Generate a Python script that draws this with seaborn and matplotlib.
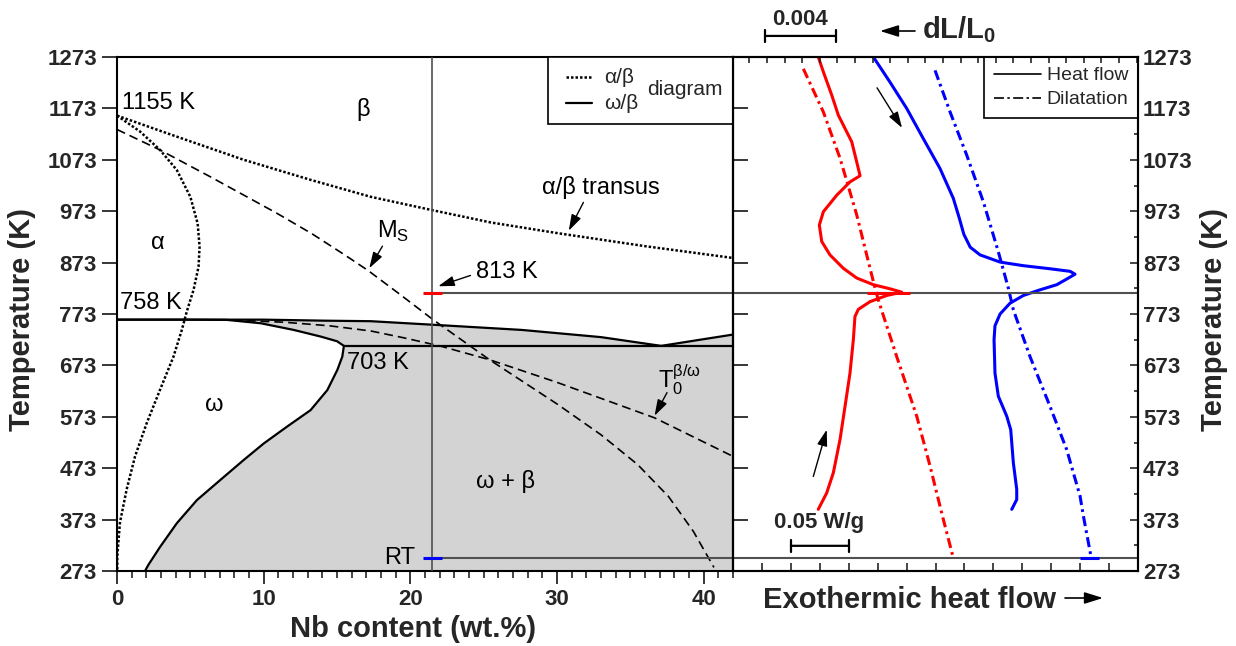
import numpy as np
import matplotlib
matplotlib.use('Agg')
import matplotlib.pyplot as plt
from matplotlib.patches import Rectangle, FancyArrowPatch
from matplotlib.lines import Line2D
import seaborn as sns

# ---- phase diagram, Nb content (wt.%) vs temperature (K) ----
transus_nb = [0, 4.08, 8.64, 13.2, 17.3, 21.5, 25.5, 30.1, 36, 42]
transus_t = [1159, 1118, 1073, 1034, 1001, 975, 951, 930, 905, 882]

alpha_nb = [0, 1.57, 2.94, 4.08, 5.0, 5.5, 5.63, 5.56, 5.22, 4.76, 4.42, 3.85, 2.94, 2.03,
            1.23, 0.66, 0.2, 0.02, 0.02]
alpha_t = [1159, 1128, 1092, 1053, 1001, 949, 904, 865, 820, 778, 742, 690, 626, 561,
           496, 432, 367, 302, 273]

ms_nb = [0, 2.94, 6.36, 10.9, 13.3, 15.47, 17.1, 19.3, 21.5, 25.4, 30, 33, 35.5, 37.6,
         39.3, 40.7]
ms_t = [1132, 1092, 1040, 969, 929, 889, 858, 811, 763, 684, 598, 538, 480, 418,
        350, 280]

t0_nb = [7.9, 11.4, 14.5, 17.3, 19.5, 22, 25.4, 30, 36.65, 42]
t0_t = [761, 757, 750, 740, 727, 711, 684, 640, 571, 496]

upper_nb = [0, 7.5, 10, 14.2, 17.3, 21.6, 27.6, 33, 37.1, 42]
upper_t = [762, 762, 762, 760, 759, 752, 742, 728, 711, 733]

omega_nb = [0, 5, 7.5, 9.8, 12.05, 13.9, 15.0, 15.47, 15.36, 15.02, 14.34, 13.2, 11.6, 10.0,
            8.64, 7.04, 5.45, 4.08, 2.94, 2.14, 1.91]
omega_t = [762, 762, 761.5, 755, 742, 729, 720, 711, 690, 664, 625, 586, 554, 521,
           489, 450, 411, 366, 320, 285, 273]

eutectoid_nb = [15.47, 42]
eutectoid_t = [711, 711]

alloy_nb = 21.5
t_quench = 814
t_room = 299

# ---- DSC / dilatometry, heat flow (W/g, offset) vs temperature (K) ----
heat_red_x = [0.0737, 0.0781, 0.0853, 0.0910, 0.0968, 0.1026, 0.1069, 0.1098, 0.1011, 0.0896,
              0.0781, 0.0746, 0.0767, 0.0838, 0.0953, 0.1069, 0.1213, 0.1357, 0.1458, 0.1328,
              0.1184, 0.1083, 0.1054, 0.1040, 0.1011, 0.0968, 0.0925, 0.0867, 0.0810, 0.0737]
heat_red_t = [1273, 1244, 1199, 1160, 1134, 1108, 1069, 1042, 1030, 1004,
              972, 946, 914, 888, 862, 843, 830, 822, 815.5, 809,
              797, 782, 768, 723, 658, 593, 529, 464, 425, 393]

heat_blue_x = [0.1213, 0.1357, 0.1501, 0.1645, 0.1789, 0.1904, 0.1955, 0.1995, 0.2050, 0.2135,
               0.2308, 0.2509, 0.2740, 0.2913, 0.2956, 0.2884, 0.2798, 0.2653, 0.2509, 0.2394,
               0.2308, 0.2264, 0.2256, 0.2264, 0.2293, 0.2366, 0.2400, 0.2423, 0.2452, 0.2452,
               0.2409]
heat_blue_t = [1273, 1224, 1173, 1114, 1056, 998, 960, 928, 903, 888,
               874, 867, 861, 856, 850.5, 841, 830, 820, 809, 794,
               773, 750, 723, 658, 613, 574, 548, 483, 432, 412,
               393]

dil_red_x = [0.0608, 0.0781, 0.0925, 0.1069, 0.1213, 0.1256, 0.1415, 0.1588, 0.1703, 0.1818,
             0.1902]
dil_red_t = [1250, 1166, 1076, 966, 836, 800, 690, 574, 477, 373, 300]

dil_blue_x = [0.1746, 0.1876, 0.2020, 0.2164, 0.2293, 0.2380, 0.2423, 0.2567, 0.2740, 0.2884,
              0.2999, 0.3028, 0.3094]
dil_blue_t = [1247, 1166, 1082, 991, 894, 823, 781, 690, 593, 509, 419, 380, 301]

temp_ticks = list(range(273, 1274, 100))
nb_ticks = [0, 10, 20, 30, 40]

sns.set_theme(style='ticks')
plt.rcParams['font.family'] = ['Liberation Sans', 'DejaVu Sans']
plt.rcParams['axes.linewidth'] = 1.5
plt.rcParams['axes.edgecolor'] = 'black'

W, H = 1236, 646
fig = plt.figure(figsize=(W / 100, H / 100), dpi=100)
ax = fig.add_axes([117 / W, 75 / H, 616 / W, 514 / H])
axr = fig.add_axes([733 / W, 75 / H, 405 / W, 514 / H])
axr.set_facecolor('none')

dotted = (0, (1.0, 0.8))
dashed = (0, (5.3, 3))
dashdot = (0, (3.3, 1.4, 0.9, 1.4))
grey = '#505050'

# ---------------- left: phase diagram ----------------
omega_rev_nb = omega_nb[::-1][:-2]
omega_rev_t = omega_t[::-1][:-2]
shade_nb = upper_nb[1:] + [42] + omega_rev_nb
shade_t = upper_t[1:] + [273] + omega_rev_t
ax.fill(shade_nb, shade_t, color='#d3d3d3', lw=0, zorder=1)

kw = dict(sort=False, estimator=None, legend=False, ax=ax, color='black')
sns.lineplot(x=upper_nb, y=upper_t, lw=1.6, **kw)
sns.lineplot(x=omega_nb, y=omega_t, lw=1.6, **kw)
sns.lineplot(x=eutectoid_nb, y=eutectoid_t, lw=1.6, **kw)
sns.lineplot(x=transus_nb, y=transus_t, lw=1.8, linestyle=dotted, **kw)
sns.lineplot(x=alpha_nb, y=alpha_t, lw=1.8, linestyle=dotted, **kw)
sns.lineplot(x=ms_nb, y=ms_t, lw=1.2, linestyle=dashed, **kw)
sns.lineplot(x=t0_nb, y=t0_t, lw=1.2, linestyle=dashed, **kw)

ax.axvline(alloy_nb, color=grey, lw=1.2, zorder=3)
ax.hlines([t_quench, t_room], alloy_nb, 42, color=grey, lw=1.5, zorder=3)
ax.hlines(t_quench, alloy_nb - 0.65, alloy_nb + 0.65, color='red', lw=2.2, zorder=4)
ax.hlines(t_room, alloy_nb - 0.65, alloy_nb + 0.65, color='blue', lw=2.2, zorder=4)

ax.set_xlim(0, 42)
ax.set_ylim(273, 1273)
ax.set_xticks(nb_ticks, labels=[str(v) for v in nb_ticks], fontweight='bold', fontsize=16)
ax.set_xticks(range(0, 43), minor=True)
ax.set_yticks(temp_ticks, labels=[str(v) for v in temp_ticks], fontweight='bold', fontsize=16)
ax.tick_params(axis='y', which='major', direction='out', length=11, width=1.3,
               left=True, right=True, labelright=False)
ax.tick_params(axis='x', which='major', direction='out', length=9.5, width=1.3)
ax.tick_params(axis='x', which='minor', direction='out', length=5, width=1.2)
ax.tick_params(axis='y', which='minor', left=False, right=False)
ax.set_xlabel('Nb content (wt.%)', fontsize=21, fontweight='bold')
ax.xaxis.set_label_coords(0.4813, -0.086)
ax.set_ylabel('Temperature (K)', fontsize=21, fontweight='bold')
ax.yaxis.set_label_coords(-0.131, 0.489)

txt = dict(fontsize=17, color='black')
ax.text(0.34, 1183, '1155 K', va='center', ha='left', **txt)
ax.text(16.75, 1170, 'β', va='center', ha='center', **txt)
ax.text(2.8, 911, 'α', va='center', ha='center', **txt)
ax.text(0.2, 794, '758 K', va='center', ha='left', **txt)
ax.text(15.7, 678, '703 K', va='center', ha='left', **txt)
ax.text(6.6, 596, 'ω', va='center', ha='center', **txt)
ax.text(26.5, 448, 'ω + β', va='center', ha='center', **txt)
ax.text(20.35, 299, 'RT', va='center', ha='right', **txt)
ax.text(18.8, 934, 'M$_\\mathregular{S}$', va='center', ha='center', **txt)
ax.text(33.0, 1020, 'α/β transus', va='center', ha='center', **txt)
ax.text(26.6, 855, '813 K', va='center', ha='center', **txt)
ax.text(36.9, 646, 'T$_\\mathregular{0}^\\mathregular{β/ω}$', va='center', ha='left', **txt)

arrow = dict(arrowstyle='-|>,head_length=0.7,head_width=0.22', color='black', lw=1.0,
             shrinkA=0, shrinkB=0, mutation_scale=14)
ax.annotate('', xy=(17.2, 862), xytext=(18.1, 905), arrowprops=arrow)
ax.annotate('', xy=(30.8, 935), xytext=(31.8, 990), arrowprops=arrow)
ax.annotate('', xy=(21.9, 827), xytext=(24.1, 848), arrowprops=arrow)
ax.annotate('', xy=(36.65, 575), xytext=(37.5, 620), arrowprops=arrow)

# hand-made legend box of the diagram
ax.add_patch(Rectangle((0.6997, 0.8697), 0.3003, 0.1303, transform=ax.transAxes,
                       facecolor='white', edgecolor='black', lw=1.2, zorder=6))
ax.add_line(Line2D([0.729, 0.771], [0.961, 0.961], transform=ax.transAxes, color='black',
                   lw=1.8, linestyle=dotted, zorder=7))
ax.add_line(Line2D([0.729, 0.771], [0.9105, 0.9105], transform=ax.transAxes, color='black',
                   lw=1.6, zorder=7))
ax.text(0.7906, 0.961, 'α/β', transform=ax.transAxes, va='center', fontsize=15, zorder=7)
ax.text(0.7906, 0.9105, 'ω/β', transform=ax.transAxes, va='center', fontsize=15, zorder=7)
ax.text(0.860, 0.936, 'diagram', transform=ax.transAxes, va='center', fontsize=15, zorder=7)

# ---------------- right: heat flow and dilatation ----------------
kw = dict(sort=False, estimator=None, legend=False, ax=axr)
sns.lineplot(x=heat_red_x, y=heat_red_t, color='red', lw=2.2, **kw)
sns.lineplot(x=heat_blue_x, y=heat_blue_t, color='blue', lw=2.2, **kw)
sns.lineplot(x=dil_red_x, y=dil_red_t, color='red', lw=2.2, linestyle=dashdot, **kw)
sns.lineplot(x=dil_blue_x, y=dil_blue_t, color='blue', lw=2.2, linestyle=dashdot, **kw)

axr.axhline(t_quench, color=grey, lw=1.5, zorder=3)
axr.axhline(t_room, color=grey, lw=1.5, zorder=3)
axr.hlines(t_quench, 0.116, 0.153, color='red', lw=2.2, zorder=4)
axr.hlines(t_room, 0.300, 0.316, color='blue', lw=2.2, zorder=4)

axr.annotate('', xy=(0.1461, 1135), xytext=(0.1245, 1213), arrowprops=arrow)
axr.annotate('', xy=(0.0810, 548), xytext=(0.0694, 457), arrowprops=arrow)

# 0.05 W/g scale bar
bar = dict(arrowstyle='|-|,widthA=0.35,widthB=0.35', color='black', lw=1.6,
           shrinkA=0, shrinkB=0)
axr.annotate('', xy=(0.10, 322), xytext=(0.05, 322), arrowprops=bar)
axr.text(0.0743, 368, '0.05 W/g', ha='center', va='center', fontsize=16, fontweight='bold')

axr.set_xlim(0, 0.35)
axr.set_ylim(273, 1273)
axr.set_xticks(np.arange(0, 0.3501, 0.025))
axr.tick_params(axis='x', which='major', direction='in', length=6, width=1.2,
                labelbottom=False, top=False)
axr.set_yticks(temp_ticks, labels=[str(v) for v in temp_ticks], fontweight='bold', fontsize=16)
axr.set_yticks(range(323, 1274, 100), minor=True)
axr.tick_params(axis='y', which='both', direction='in', left=False, right=True,
                labelleft=False, labelright=True, width=1.2)
axr.tick_params(axis='y', which='major', length=6)
axr.tick_params(axis='y', which='minor', length=3)
axr.yaxis.set_label_position('right')
axr.set_ylabel('Temperature (K)', fontsize=21, fontweight='bold', rotation=90)
axr.yaxis.set_label_coords(1.153, 0.489)
axr.set_xlabel('')

axr.legend(handles=[Line2D([], [], color='black', lw=1.2),
                    Line2D([], [], color='black', lw=1.2, linestyle=(0, (6, 2, 1.5, 2)))],
           labels=['Heat flow', 'Dilatation'], loc='upper right', bbox_to_anchor=(1, 1),
           borderaxespad=0, fancybox=False, edgecolor='black', framealpha=1, fontsize=14,
           handlelength=2.4, handletextpad=0.3, labelspacing=0.33, borderpad=0.5)
axr.get_legend().get_frame().set_linewidth(1.2)

# top scale: relative length change
ax_top = axr.twiny()
ax_top.set_xlim(0.00007, 0.02308)
ax_top.set_xticks(np.arange(0.001, 0.0231, 0.001))
ax_top.tick_params(axis='x', direction='in', length=4, width=1.2, labeltop=False,
                   top=True, bottom=False)
tr = ax_top.get_xaxis_transform()
ax_top.annotate('', xy=(0.0059, 1.041), xytext=(0.0019, 1.041), xycoords=tr, textcoords=tr,
                arrowprops=bar, annotation_clip=False)
ax_top.text(0.0039, 1.072, '0.004', transform=tr, ha='center', va='center', fontsize=16,
            fontweight='bold', clip_on=False)

fig.text(922 / W, 1 - 38 / H, 'dL/L$_\\mathregular{0}$', fontsize=21, fontweight='bold',
         va='baseline', ha='left')
fig.text(763 / W, 1 - 608 / H, 'Exothermic heat flow', fontsize=21, fontweight='bold',
         va='baseline', ha='left')
side_arrow = dict(arrowstyle='-|>,head_length=0.7,head_width=0.22', color='black', lw=1.2,
                  shrinkA=0, shrinkB=0, mutation_scale=16)
fig.add_artist(FancyArrowPatch((915 / W, 1 - 31 / H), (880 / W, 1 - 31 / H),
                               transform=fig.transFigure, **side_arrow))
fig.add_artist(FancyArrowPatch((1065 / W, 1 - 598 / H), (1103 / W, 1 - 598 / H),
                               transform=fig.transFigure, **side_arrow))

fig.savefig('out.png', dpi=100)
